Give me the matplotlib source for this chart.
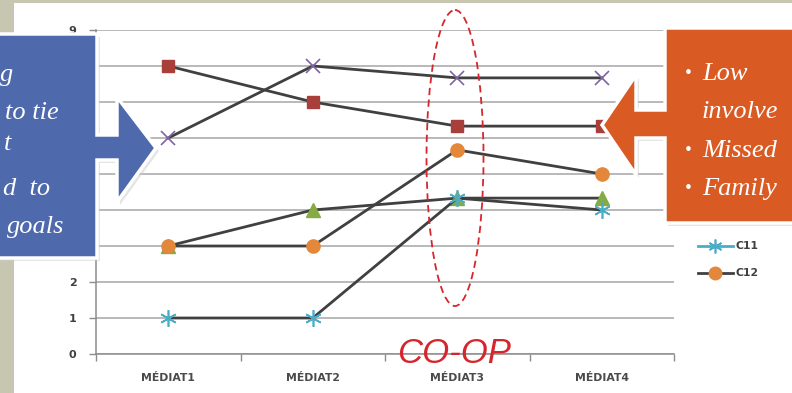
import numpy as np
import matplotlib
matplotlib.use('Agg')
import matplotlib.pyplot as plt
from matplotlib.patches import Polygon, Ellipse, Rectangle
from matplotlib.lines import Line2D

# ── Data ───────────────────────────────────────────────────────────────────
categories = ['MÉDIAT1', 'MÉDIAT2', 'MÉDIAT3', 'MÉDIAT4']
c8 = [8, 7, 6.33, 6.33]
c9 = [3, 4, 4.33, 4.33]
c10 = [6, 8, 7.67, 7.67]
c11 = [1, 1, 4.33, 4.0]
c12 = [3, 3, 5.67, 5.0]
y_ticks = list(range(0, 10))

blue_lines = ['g', 'to tie', 't', 'd  to', 'goals']
orange_lines = ['Low', 'involve', 'Missed', 'Family']
orange_bullets = [True, False, True, True]

W, H = 792, 393
LINE = '#404040'
BEIGE = '#C7C6B1'
RED = '#D6262D'

fig = plt.figure(figsize=(W / 100, H / 100), dpi=100)
fig.patch.set_facecolor(BEIGE)

# white slide area
bg = fig.add_axes([0, 0, 1, 1], zorder=0)
bg.set_xlim(0, W); bg.set_ylim(H, 0); bg.axis('off')
bg.add_patch(Rectangle((14, 3), W, H, facecolor='white', edgecolor='none'))

# ── Chart ──────────────────────────────────────────────────────────────────
x0, x1, ytop, ybot = 96, 674, 30, 354
ax = fig.add_axes([x0 / W, (H - ybot) / H, (x1 - x0) / W, (ybot - ytop) / H], zorder=1)
ax.set_facecolor('none')
x = np.arange(len(categories))

series = [
    (c8, 's', '#A83F3B', 9, 1),
    (c9, '^', '#86AB45', 10, 1),
    (c10, 'x', '#8064A2', 10, 1.2),
    (c11, (6, 2, 0), '#4BACC6', 12, 1.2),
    (c12, 'o', '#E3873A', 9.5, 1),
]
for vals, mk, col, ms, mew in series:
    ax.plot(x, vals, color=LINE, lw=2.0, marker=mk, ms=ms,
            mfc=col, mec=col, mew=mew, zorder=3)

ax.set_xlim(-0.5, 3.5)
ax.set_ylim(0, 9)
ax.set_yticks(y_ticks)
ax.yaxis.grid(True, color='#A6A6A6', lw=1.1)
ax.set_axisbelow(True)
for s in ['top', 'right']:
    ax.spines[s].set_visible(False)
for s in ['left', 'bottom']:
    ax.spines[s].set_color('#8C8C8C')
    ax.spines[s].set_linewidth(1.1)
ax.set_xticks(np.arange(-0.5, 4, 1))
ax.set_xticklabels([])
ax.set_xticks(x, minor=True)
ax.set_xticklabels(categories, minor=True, fontsize=7.8, fontweight='bold', color='#4A4A4A')
ax.tick_params(axis='x', which='major', length=5, color='#8C8C8C', width=1)
ax.tick_params(axis='x', which='minor', length=0, pad=14)
ax.tick_params(axis='y', length=5, color='#8C8C8C', width=1, labelsize=8,
               labelcolor='#404040', pad=9)
for t in ax.get_yticklabels():
    t.set_fontweight('bold')

# ── Overlay: callouts, ellipse, legend ─────────────────────────────────────
ov = fig.add_axes([0, 0, 1, 1], zorder=2)
ov.set_xlim(0, W); ov.set_ylim(H, 0); ov.axis('off')

blue_pts = [(-5, 34), (97, 34), (97, 135), (117, 135), (117, 97), (156, 148),
            (117, 202), (117, 160), (97, 160), (97, 258), (-5, 258)]
orange_pts = [(800, 28), (665, 28), (665, 110), (636, 110), (636, 75), (602, 125),
              (636, 175), (636, 138), (665, 138), (665, 223), (800, 223)]
for pts, col in [(blue_pts, '#4F69AD'), (orange_pts, '#DA5A23')]:
    sh = [(px + 3, py + 3) for px, py in pts]
    ov.add_patch(Polygon(sh, closed=True, facecolor='#CCCCCC', edgecolor='none', alpha=0.5))
    ov.add_patch(Polygon(pts, closed=True, facecolor=col, edgecolor='white', lw=2.5))

serif = ['Liberation Serif', 'DejaVu Serif']
blue_right = [13, 59, 11, 50, 64]
blue_base = [81, 119, 150, 195, 233]
for txt, xr, yb in zip(blue_lines, blue_right, blue_base):
    ov.text(xr, yb, txt, ha='right', va='baseline', color='white', fontsize=19,
            style='italic', family=serif)

orange_base = [80, 118, 157, 195]
for txt, b, yb in zip(orange_lines, orange_bullets, orange_base):
    if b:
        ov.text(685, yb - 2, '•', ha='left', va='baseline', color='white', fontsize=14,
                family=serif)
    ov.text(702, yb, txt, ha='left', va='baseline', color='white', fontsize=19,
            style='italic', family=serif)

ov.add_patch(Ellipse((455, 158), 57, 296, facecolor='none', edgecolor=RED,
                     lw=1.3, ls=(0, (4, 2.5))))
ov.text(397, 363, 'CO-OP', ha='left', va='baseline', color=RED, fontsize=25,
        style='italic', family=['Liberation Sans', 'DejaVu Sans'])

# legend (visible entries)
ov.add_line(Line2D([698, 733], [246, 246], color='#4BACC6', lw=2))
ov.plot([715], [246], marker=(6, 2, 0), ms=10, mec='#4BACC6', mew=1.2)
ov.add_line(Line2D([698, 733], [273, 273], color=LINE, lw=2))
ov.plot([715], [273], marker='o', ms=9, mfc='#E3873A', mec='#E3873A')
for lab, yy in [('C11', 246), ('C12', 273)]:
    ov.text(735, yy, lab, ha='left', va='center', fontsize=7.8, fontweight='bold',
            color='#404040')

fig.savefig('out.png', dpi=100, facecolor=fig.get_facecolor())
